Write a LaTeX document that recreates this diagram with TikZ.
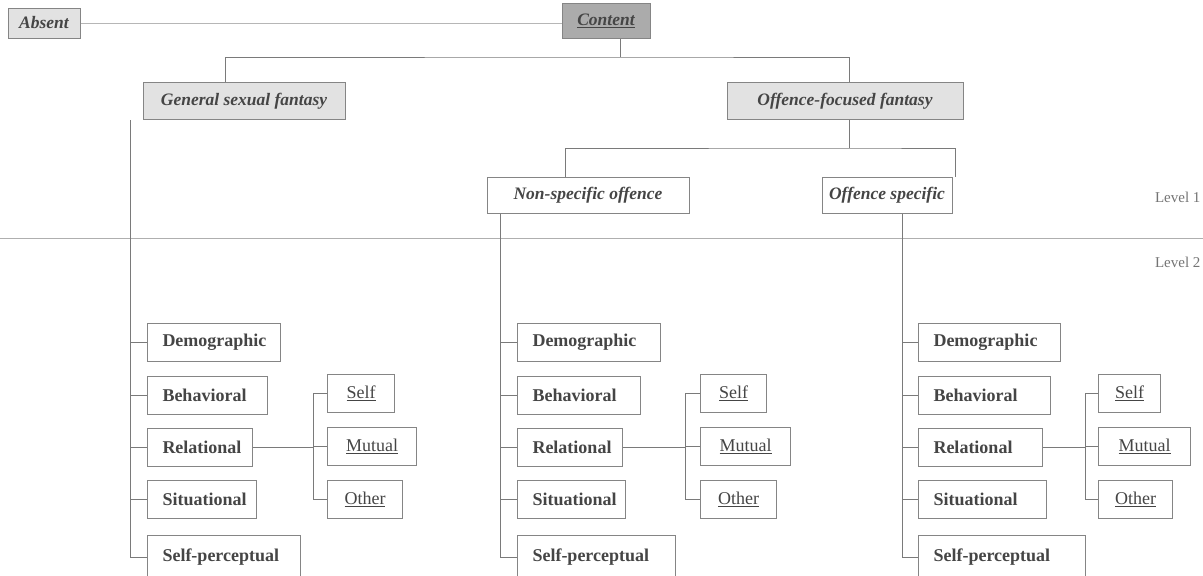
\documentclass[tikz,border=0pt]{standalone}
\usepackage{fontspec}
\setmainfont{Liberation Serif}
\usetikzlibrary{positioning}
\definecolor{ln}{HTML}{7A7A7A}
\definecolor{bd}{HTML}{858585}
\definecolor{tx}{HTML}{454545}
\definecolor{lightfill}{HTML}{E2E2E2}
\definecolor{darkfill}{HTML}{ABABAB}
\tikzset{
  topbox/.style={draw=bd, line width=1pt, fill=lightfill, text=tx, font=\fontsize{17.5}{20}\selectfont\bfseries\itshape, inner sep=0pt},
  l1box/.style={draw=bd, line width=1pt, fill=white, text=tx, font=\fontsize{17.5}{20}\selectfont\bfseries\itshape, inner sep=0pt},
  l2box/.style={draw=bd, line width=1pt, fill=white, text=tx, font=\fontsize{18}{21}\selectfont\bfseries, inner sep=0pt, anchor=west, align=left},
  subbox/.style={draw=bd, line width=1pt, fill=white, text=tx, font=\fontsize{18}{21}\selectfont, inner sep=0pt, anchor=west},
  conn/.style={draw=ln, line width=1pt},
  lvl/.style={text=tx!75, font=\fontsize{15}{18}\selectfont, anchor=east}
}
\newcommand{\ul}[1]{\underline{#1}}
\begin{document}
\begin{tikzpicture}[x=1pt,y=-1pt]
\useasboundingbox (0,0) rectangle (1203,576);
\begin{scope}
\clip (0,0) rectangle (1203,576);
% top level
\node[topbox, minimum width=72, minimum height=30] (absent) at (44,23) {Absent};
\node[topbox, fill=darkfill, minimum width=88, minimum height=35] (content) at (606,21) {\ul{Content}};
\node[topbox, minimum width=202, minimum height=37] (gen) at (244,101) {General sexual fantasy};
\node[topbox, minimum width=236, minimum height=37] (off) at (845,101) {Offence-focused fantasy};
\node[l1box, minimum width=202, minimum height=36] (nons) at (588,195) {Non-specific offence};
\node[l1box, minimum width=130, minimum height=36] (ospec) at (887,195) {Offence specific};
\node[lvl] (lv1) at (1204,197) {Level 1};
\node[lvl] (lv2) at (1204,262) {Level 2};
\coordinate (hl) at (0,238);
\coordinate (hr) at (1203,238);
\draw[conn, draw=ln!60] (hl) -- (hr);
\draw[conn, draw=ln!55] (absent.east) -- (absent.east -| content.west);
\coordinate (cj) at (620,57);
\draw[conn] (content.south -| cj) -- (cj);
\draw[conn] (gen.north -| 225,0) |- (cj) -| (off.north -| 849,0);
\coordinate (oj) at (849,148);
\draw[conn] (off.south -| oj) -- (oj);
\draw[conn] (nons.north -| 565,0) |- (oj) -| (ospec.north -| 955,0);

% columns
\foreach \col/\vx/\bx/\pn/\qa/\qb/\qc/\qd/\qe/\brx/\sx/\ra/\rb/\rc in {A/130/147/gen/133/120/105/109/153/313/327/67/89/75, B/500/517/nons/143/123/105/108/158/685/700/66/90/76, C/902/918/ospec/142/132/124/128/167/1085/1098/62/92/74}{
  \node[l2box, text width=\qa pt, minimum height=38] (\col-dem) at (\bx,342) {\hspace*{15pt}Demographic};
  \node[l2box, text width=\qb pt, minimum height=38] (\col-beh) at (\bx,395) {\hspace*{15pt}Behavioral};
  \node[l2box, text width=\qc pt, minimum height=38] (\col-rel) at (\bx,447) {\hspace*{15pt}Relational};
  \node[l2box, text width=\qd pt, minimum height=38] (\col-sit) at (\bx,499) {\hspace*{15pt}Situational};
  \node[l2box, text width=\qe pt, minimum height=44] (\col-sp) at (\bx,557) {\hspace*{15pt}Self-perceptual};
  \node[subbox, minimum width=\ra, minimum height=38] (\col-self) at (\sx,393) {\ul{Self}};
  \node[subbox, minimum width=\rb, minimum height=38] (\col-mut) at (\sx,446) {\ul{Mutual}};
  \node[subbox, minimum width=\rc, minimum height=38] (\col-oth) at (\sx,499) {\ul{Other}};
  \coordinate (\col-top) at (\vx,0);
  \draw[conn] (\pn.south -| \col-top) -- (\col-sp.west -| \col-top) -- (\col-sp.west);
  \foreach \n in {dem,beh,rel,sit}{
    \draw[conn] (\col-\n.west -| \col-top) -- (\col-\n.west);
  }
  \coordinate (\col-br) at (\brx,0);
  \draw[conn] (\col-rel.east) -- (\col-rel.east -| \col-br);
  \draw[conn] (\col-self.west) -| (\col-oth.west -| \col-br) -- (\col-oth.west);
  \draw[conn] (\col-mut.west -| \col-br) -- (\col-mut.west);
}
\end{scope}
\end{tikzpicture}
\end{document}
